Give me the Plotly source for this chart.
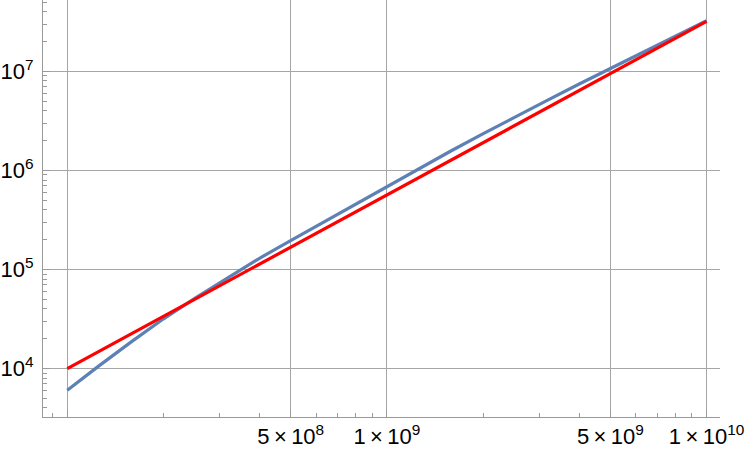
import plotly.graph_objects as go

# blue curve (log-log)
blue_x = [1.0e8, 1.122e8, 1.259e8, 1.585e8, 1.995e8, 2.512e8, 3.162e8, 3.981e8, 5.012e8,
          6.31e8, 7.943e8, 1.0e9, 1.259e9, 1.585e9, 1.995e9, 2.512e9, 3.162e9, 3.981e9,
          5.012e9, 6.31e9, 7.943e9, 1.0e10]
blue_y = [6030, 8040, 10700, 18600, 31600, 51300, 81300, 1.29e5, 1.97e5,
          2.99e5, 4.55e5, 6.92e5, 1.05e6, 1.57e6, 2.34e6, 3.47e6, 5.07e6, 7.41e6,
          1.07e7, 1.55e7, 2.24e7, 3.24e7]

# red reference line (straight on log-log)
red_x = [1.0e8, 1.0e10]
red_y = [1.0e4, 3.2e7]

x_ticks = [1e8, 5e8, 1e9, 5e9, 1e10]
x_labels = ["", "5\u2009×\u200910<sup>8</sup>", "1\u2009×\u200910<sup>9</sup>",
            "5\u2009×\u200910<sup>9</sup>", "1\u2009×\u200910<sup>10</sup>"]
x_minor = [9e7, 2e8, 3e8, 4e8, 6e8, 7e8, 8e8, 9e8, 2e9, 3e9, 4e9, 6e9, 7e9, 8e9, 9e9]

y_ticks = [1e4, 1e5, 1e6, 1e7]
y_labels = ["10<sup>4</sup>", "10<sup>5</sup>", "10<sup>6</sup>", "10<sup>7</sup>"]
y_minor = [m * 10 ** e for e in (3, 4, 5, 6, 7) for m in range(2, 10)
           if 3.3e3 < m * 10 ** e < 5.2e7]

GRID = "#a6a6a6"
AXIS = "#9a9a9a"

fig = go.Figure()
fig.add_trace(go.Scatter(x=blue_x, y=blue_y, mode="lines",
                         line=dict(color="#5E81B5", width=3.2),
                         showlegend=False))
fig.add_trace(go.Scatter(x=red_x, y=red_y, mode="lines",
                         line=dict(color="#FF0000", width=3.2),
                         showlegend=False))

fig.update_layout(
    width=747, height=450,
    paper_bgcolor="white", plot_bgcolor="white",
    margin=dict(l=43, r=27, t=0, b=33, pad=0, autoexpand=False),
    font=dict(family="Liberation Sans, Arial, sans-serif", size=22, color="black"),
)
fig.update_xaxes(
    type="log", range=[7.924, 10.042], automargin=False,
    tickmode="array", tickvals=x_ticks, ticktext=x_labels,
    showgrid=True, gridcolor=GRID, gridwidth=1,
    showline=True, linecolor=AXIS, linewidth=1,
    ticks="inside", ticklen=7, tickcolor=AXIS,
    minor=dict(tickmode="array", tickvals=x_minor, ticks="inside", ticklen=4,
               tickcolor=AXIS, showgrid=False),
    zeroline=False,
)
fig.update_yaxes(
    type="log", range=[3.511, 7.72], automargin=False,
    tickmode="array", tickvals=y_ticks, ticktext=y_labels,
    showgrid=True, gridcolor=GRID, gridwidth=1,
    showline=True, linecolor=AXIS, linewidth=1,
    ticks="inside", ticklen=7, tickcolor=AXIS, ticklabelstandoff=4,
    minor=dict(tickmode="array", tickvals=y_minor, ticks="inside", ticklen=4,
               tickcolor=AXIS, showgrid=False),
    zeroline=False,
)

# the page's default body margin would shift the figure by 8px
fig.write_html("out.html", config={"displayModeBar": False},
               post_script="document.body.style.margin='0';")
